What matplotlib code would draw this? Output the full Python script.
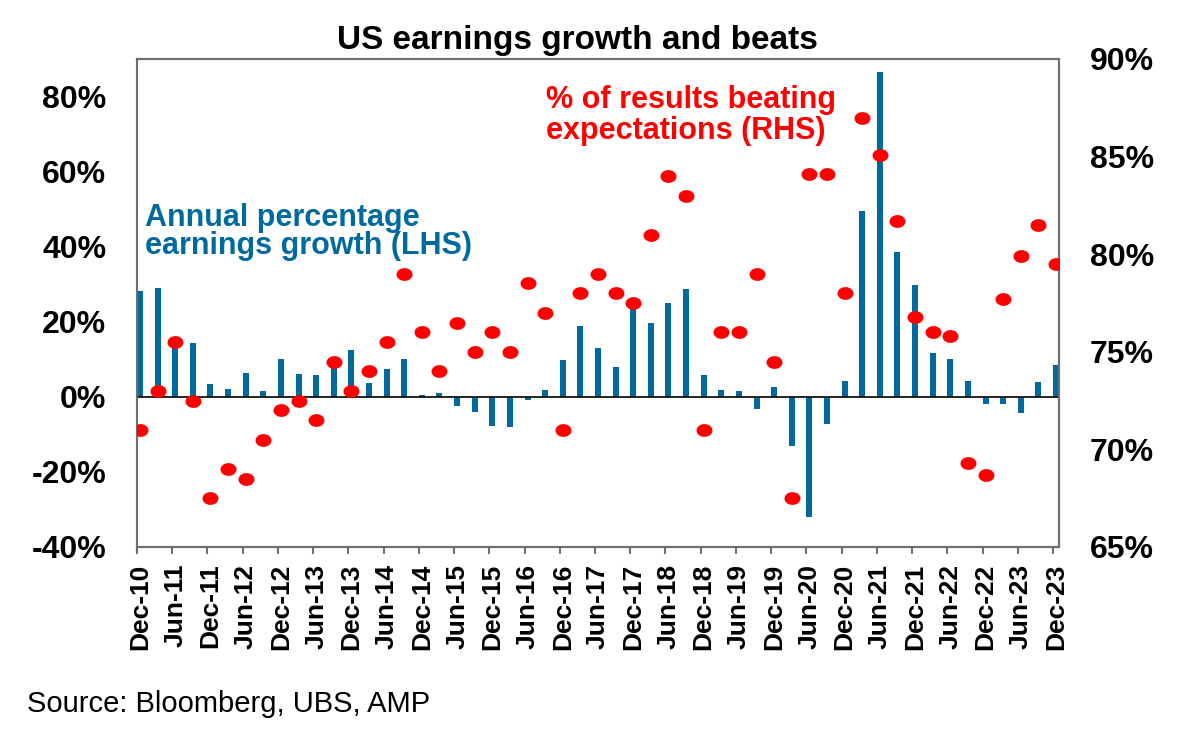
import numpy as np
import pandas as pd
import matplotlib
matplotlib.use('Agg')
import matplotlib.pyplot as plt
from matplotlib.path import Path

plt.rcParams['font.family'] = ['Liberation Sans', 'DejaVu Sans']
plt.rcParams['font.weight'] = 'bold'

# quarterly, Dec-10 .. Dec-23
quarters = list(pd.date_range('2010-12-31', periods=53, freq='QE').strftime('%b-%y'))

# annual % earnings growth (LHS)
growth = [28.3, 29.0, 15.0, 14.3, 3.5, 2.2, 6.4, 1.6, 10.2, 6.2, 5.9, 9.0, 12.5, 3.7, 7.3, 10.1, 0.4, 0.9, -2.4,
          -4.0, -7.7, -8.1, -0.9, 1.8, 9.8, 19.0, 13.1, 7.9, 24.0, 19.8, 25.0, 28.8, 5.8, 1.7, 1.6, -3.3, 2.5,
          -13.0, -31.9, -7.3, 4.1, 49.5, 86.5, 38.7, 29.8, 11.8, 10.2, 4.3, -2.0, -1.9, -4.2, 4.0, 8.4]

# % of results beating expectations (RHS)
beats = [71.0, 73.0, 75.5, 72.5, 67.5, 69.0, 68.5, 70.5, 72.0, 72.5, 71.5, 74.5, 73.0, 74.0, 75.5, 79.0, 76.0, 74.0, 76.5,
         75.0, 76.0, 75.0, 78.5, 77.0, 71.0, 78.0, 79.0, 78.0, 77.5, 81.0, 84.0, 83.0, 71.0, 76.0, 76.0, 79.0, 74.5,
         67.5, 84.1, 84.1, 78.0, 87.0, 85.1, 81.7, 76.8, 76.0, 75.8, 69.3, 68.7, 77.7, 79.9, 81.5, 79.5]

blue = '#006A9E'
red = '#FF0000'
grey = '#6E6E6E'

x = np.arange(len(quarters))

fig = plt.figure(figsize=(11.85, 7.35), dpi=100)
ax = fig.add_axes([137/1185, 1-547/735, 922/1185, 488/735])

ax.bar(x, growth, width=0.34, color=blue, zorder=2)
ax.axhline(0, color='black', lw=1.2, zorder=3)
ax.set_xlim(-0.17, len(x) - 1 + 0.17)
ax.set_ylim(-40, 90)
ax.set_yticks(range(-40, 81, 20))
ax.yaxis.set_major_formatter(lambda v, p: f'{v:.0f}%')
ax.tick_params(axis='y', length=0, pad=22, labelsize=23)

# labels centred on the points, tick marks a touch to the left (date axis)
ax.set_xticks(x[::2])
ax.set_xticklabels(quarters[::2], rotation=90, fontsize=19)
ax.set_xticks(x[::2] - 0.17, minor=True)
ax.tick_params(axis='x', which='major', length=0, pad=12)
ax.tick_params(axis='x', which='minor', length=5, width=1.5, color=grey, direction='out')

# slightly wide ellipse for the dots
t = np.linspace(0, 2 * np.pi, 60)
dot = Path(np.column_stack([1.25 * np.cos(t), np.sin(t)]), closed=True)

ax2 = ax.twinx()
ax2.plot(x, beats, ls='none', marker=dot, ms=11.5, color=red, mec='none', zorder=4)
ax2.set_ylim(65, 90)
ax2.set_yticks(range(65, 91, 5))
ax2.yaxis.set_major_formatter(lambda v, p: f'{v:.0f}%')
ax2.tick_params(axis='y', length=0, pad=22, labelsize=23)

for a in (ax, ax2):
    for s in a.spines.values():
        s.set_color(grey)
        s.set_linewidth(1.5)

fig.text(577/1185, 1-49/735, 'US earnings growth and beats', ha='center', va='baseline', fontsize=24)
fig.text(145/1185, 1-226/735, 'Annual percentage', color=blue, fontsize=22, va='baseline')
fig.text(145/1185, 1-254/735, 'earnings growth (LHS)', color=blue, fontsize=22, va='baseline')
fig.text(546/1185, 1-108/735, '% of results beating', color=red, fontsize=22, va='baseline')
fig.text(546/1185, 1-139/735, 'expectations (RHS)', color=red, fontsize=22, va='baseline')
fig.text(27/1185, 1-712/735, 'Source: Bloomberg, UBS, AMP', fontsize=21, fontweight='normal', va='baseline')

fig.savefig('out.png', dpi=100)
